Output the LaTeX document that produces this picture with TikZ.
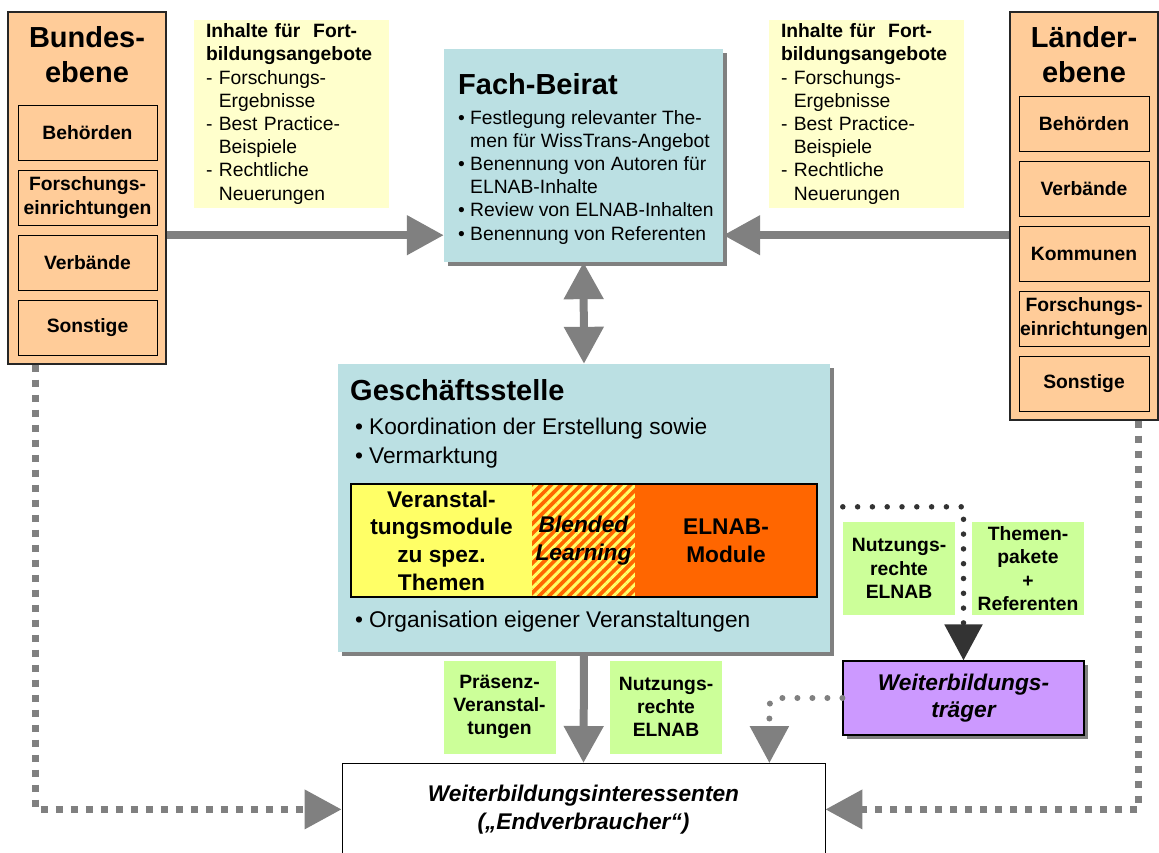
\documentclass[tikz,border=0pt]{standalone}
\usepackage{fontspec}
\setmainfont{Liberation Sans}
\usetikzlibrary{arrows.meta, positioning, shadows, patterns.meta}

\definecolor{ebene}{RGB}{255,204,153}
\definecolor{hellgelb}{RGB}{255,255,204}
\definecolor{tuerkis}{RGB}{187,224,227}
\definecolor{gelb}{RGB}{255,255,102}
\definecolor{elnaborange}{RGB}{255,102,0}
\definecolor{gruen}{RGB}{204,255,153}
\definecolor{lila}{RGB}{204,153,255}
\definecolor{pfeilgrau}{RGB}{128,128,128}
\definecolor{dunkel}{RGB}{51,51,51}

\newcommand{\kleinschrift}{\fontsize{19.3pt}{23.2pt}\selectfont}
\newcommand{\grossschrift}{\fontsize{22.7pt}{27.7pt}\selectfont}
\newcommand{\pkt}[1][12pt]{\makebox[#1][l]{\textbullet}}
\newcommand{\weiter}[1][12pt]{\hspace*{#1}}
\newcommand{\einzug}{\hphantom{- }}

\begin{document}
\begin{tikzpicture}[
        x = 1pt, y = -1pt,
        on grid,
        node distance = 65pt,
        >= {Triangle[length = 37pt, width = 38pt]},
        titel/.style = {font = \fontsize{29pt}{35pt}\selectfont\bfseries, inner sep = 0pt},
        ebenebox/.style = {draw = black!85, line width = 1.2pt, fill = ebene},
        innen/.style = {draw = black, line width = 0.8pt, fill = ebene, minimum height = 55pt,
            inner sep = 0pt, align = center, font = \kleinschrift\bfseries},
        hinweis/.style = {fill = hellgelb, minimum width = 195pt, minimum height = 186pt,
            text width = 171pt, inner xsep = 12pt, align = left, font = \kleinschrift},
        beirat/.style = {fill = tuerkis, drop shadow = {shadow xshift = 4pt, shadow yshift = -4pt,
            fill = pfeilgrau, opacity = 1}},
        modul/.style = {minimum height = 113pt, inner sep = 0pt, align = center,
            font = \grossschrift\bfseries},
        gruenkasten/.style = {fill = gruen, minimum width = 112pt, minimum height = 93pt,
            inner sep = 0pt, align = center, font = \kleinschrift\bfseries},
        pfeil/.style = {->, draw = pfeilgrau, line width = 8pt},
        eckig/.style = {->, draw = pfeilgrau, line width = 7pt, dash pattern = on 7pt off 8pt},
        punktgrau/.style = {->, draw = pfeilgrau, line width = 6pt, line cap = round,
            dash pattern = on 0pt off 15pt, rounded corners = 8pt},
        punktdunkel/.style = {-{Triangle[length = 36pt, width = 37pt]}, draw = dunkel,
            line width = 5.5pt, line cap = round, dash pattern = on 0pt off 14.8pt}
    ]
    \useasboundingbox (0,0) rectangle (1159,853);

    % Bundesebene
    \node[ebenebox, minimum width = 158pt, minimum height = 352pt] (bund) at (87,188) {};
    \node[titel, anchor = north, align = center] (bundtitel) at (87,26) {Bundes-\\ebene};
    \node[innen, minimum width = 139pt] (bbeh) at (87.5,132.5) {Behörden};
    \node[innen, minimum width = 139pt, below = of bbeh] (bfor) {Forschungs-\\einrichtungen};
    \node[innen, minimum width = 139pt, below = of bfor] (bver) {Verbände};
    \node[innen, minimum width = 139pt, below = of bver] (bson) {Sonstige};

    % Laenderebene
    \node[ebenebox, minimum width = 148pt, minimum height = 408pt] (land) at (1084,216) {};
    \node[titel, anchor = north, align = center] (landtitel) at (1084,26) {Länder-\\ebene};
    \node[innen, minimum width = 130pt] (lbeh) at (1084,123.5) {Behörden};
    \node[innen, minimum width = 130pt, below = of lbeh] (lver) {Verbände};
    \node[innen, minimum width = 130pt, below = of lver] (lkom) {Kommunen};
    \node[innen, minimum width = 130pt, below = of lkom] (lfor) {Forschungs-\\einrichtungen};
    \node[innen, minimum width = 130pt, below = of lfor] (lson) {Sonstige};

    \node[hinweis] (binhalt) at (291.5,114) {\textbf{Inhalte für~~Fort-}\\\textbf{bildungsangebote}\\- Forschungs-\\\einzug Ergebnisse\\- Best Practice-\\\einzug Beispiele\\- Rechtliche\\\einzug Neuerungen};
    \node[hinweis] (linhalt) at (866.5,114) {\textbf{Inhalte für~~Fort-}\\\textbf{bildungsangebote}\\- Forschungs-\\\einzug Ergebnisse\\- Best Practice-\\\einzug Beispiele\\- Rechtliche\\\einzug Neuerungen};

    % Fach-Beirat
    \node[beirat, minimum width = 279pt, minimum height = 213pt] (fach) at (583.5,155.5) {};
    \node[titel, anchor = base west] (fachtitel) at (458,95) {Fach-Beirat};
    \node[anchor = north west, inner sep = 0pt, align = left, font = \kleinschrift] (fachliste) at (458,110)
        {\pkt Festlegung relevanter The-\\\weiter men für WissTrans-Angebot\\\pkt Benennung von Autoren für\\\weiter ELNAB-Inhalte\\\pkt Review von ELNAB-Inhalten\\\pkt Benennung von Referenten};

    % Geschaeftsstelle
    \node[beirat, minimum width = 492pt, minimum height = 288pt] (gst) at (584,508) {};
    \node[titel, anchor = base west] (gsttitel) at (350,400) {Geschäftsstelle};
    \node[anchor = north west, inner sep = 0pt, align = left, font = \fontsize{22.7pt}{29pt}\selectfont] (gstliste) at (355,417.5)
        {\pkt[14pt]Koordination der Erstellung sowie\\\pkt[14pt]Vermarktung};
    \node[anchor = base west, inner sep = 0pt, font = \grossschrift] (gstorga) at (355,627)
        {\pkt[14pt]Organisation eigener Veranstaltungen};

    \node[modul, fill = gelb, minimum width = 181pt] (vmod) at (441.5,540.5) {Veranstal-\\tungsmodule\\zu spez.\\Themen};
    \node[modul, preaction = {fill = elnaborange}, pattern = {Lines[angle = 45, distance = 7pt, line width = 3pt]},
        pattern color = gelb, minimum width = 103pt, right = 142pt of vmod,
        font = \grossschrift\bfseries\itshape] (blend) {Blended\\Learning};
    \node[modul, fill = elnaborange, minimum width = 182pt, right = 142.5pt of blend] (elnab) {ELNAB-\\Module};
    \draw[line width = 2pt] (vmod.north west) rectangle (elnab.south east);

    \node[gruenkasten] (nutzoben) at (899,568.5) {Nutzungs-\\rechte\\ELNAB};
    \node[gruenkasten, right = 129pt of nutzoben] (themen) {Themen-\\pakete\\+\\Referenten};
    \node[gruenkasten] (praesenz) at (499.5,707) {Präsenz-\\Veranstal-\\tungen};
    \node[gruenkasten, right = 166.5pt of praesenz] (nutzunten) {Nutzungs-\\rechte\\ELNAB};

    \node[draw = black, line width = 1.2pt, fill = lila, minimum width = 241pt, minimum height = 74pt,
        drop shadow = {shadow xshift = 4pt, shadow yshift = -4pt, fill = pfeilgrau, opacity = 1},
        align = center, font = \grossschrift\bfseries\itshape] (wbt) at (963.5,698) {Weiterbildungs-\\träger};

    \node[draw = black, line width = 0.8pt, fill = white, minimum width = 483pt, minimum height = 92pt,
        anchor = north, align = center, font = \grossschrift\bfseries\itshape] (endv) at (583.5,763)
        {Weiterbildungsinteressenten\\(„Endverbraucher“)};

    \coordinate (fw) at ([yshift = 27pt]fach.south west);
    \coordinate (fo) at ([yshift = 27pt]fach.south east);
    \coordinate (dstart) at ([yshift = 15pt]nutzoben.north west);
    \coordinate (wziel) at ([xshift = -56pt]endv.north east);

    \draw[pfeil] (bund.east |- fw) -- (fw);
    \draw[pfeil] (land.west |- fo) -- (fo);
    \draw[pfeil, <->] (fach.south) -- (gst.north);
    \draw[pfeil] (gst.south) -- (endv.north);
    \draw[punktdunkel] (dstart) -| (wbt.north);
    \draw[punktgrau] (wbt.west) -| (wziel);
    \draw[eckig] ([xshift = 28pt]bund.south west) |- (endv.west);
    \draw[eckig] ([xshift = -20pt]land.south east) |- (endv.east);
\end{tikzpicture}
\end{document}
